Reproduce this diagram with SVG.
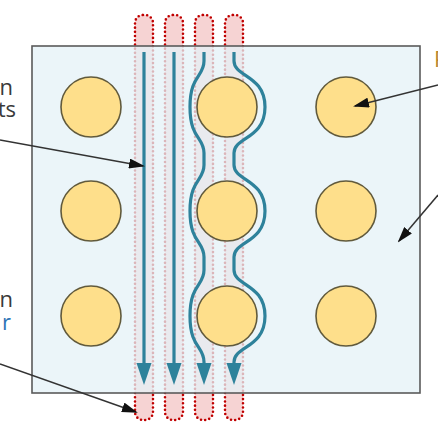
<svg xmlns="http://www.w3.org/2000/svg" width="438" height="438" viewBox="0 0 438 438">
<style>
.chan{fill:#f6d3d3;stroke:#c00000;stroke-width:2.6;stroke-dasharray:0 4.2;stroke-linecap:round}
.box{fill:#e4f1f7;fill-opacity:0.75;stroke:#5a5a5a;stroke-width:1.6}
.grain{fill:#fedf8b;stroke:#615a3c;stroke-width:1.6}
.flow{fill:none;stroke:#2e829b;stroke-width:3.2;marker-end:url(#fh)}
.lead{fill:none;stroke:#333;stroke-width:1.5;marker-end:url(#lh)}
.lbl{font-family:"Open Sans","Liberation Sans",sans-serif;font-size:22px;fill:#3a3a3a}
</style>
<defs>
<marker id="fh" markerUnits="userSpaceOnUse" viewBox="0 0 22 16" markerWidth="22" markerHeight="16" refX="12" refY="8" orient="auto">
<path d="M0,0.5 L22,8 L0,15.5 z" fill="#2e829b"/>
</marker>
<marker id="lh" markerUnits="userSpaceOnUse" viewBox="0 0 16 10" markerWidth="16" markerHeight="10" refX="14" refY="5" orient="auto">
<path d="M0,0 L16,5 L0,10 z" fill="#111"/>
</marker>
</defs>
<g id="channels">
<rect class="chan" x="135" y="15" width="18" height="405" rx="8"/>
<rect class="chan" x="165" y="15" width="18" height="405" rx="8"/>
<rect class="chan" x="195" y="15" width="18" height="405" rx="8"/>
<rect class="chan" x="225" y="15" width="18" height="405" rx="8"/>
</g>
<g id="medium"><rect class="box" x="32" y="46" width="388" height="347"/></g>
<g id="grains">
<circle class="grain" cx="91" cy="107" r="30"/>
<circle class="grain" cx="227" cy="107" r="30"/>
<circle class="grain" cx="346" cy="107" r="30"/>
<circle class="grain" cx="91" cy="211" r="30"/>
<circle class="grain" cx="227" cy="211" r="30"/>
<circle class="grain" cx="346" cy="211" r="30"/>
<circle class="grain" cx="91" cy="316" r="30"/>
<circle class="grain" cx="227" cy="316" r="30"/>
<circle class="grain" cx="346" cy="316" r="30"/>
</g>
<g id="connectors">
<path class="flow" d="M144,52 V375"/>
<path class="flow" d="M174,52 V375"/>
<path class="flow" d="M204,52 V61 C204,77 190,75 190,107 C190,139 204,137 204,153 V165 C204,181 190,179 190,211 C190,243 204,241 204,257 V270 C204,286 190,284 190,316 C190,348 204,346 204,362 V375"/>
<path class="flow" d="M234,52 V61 C234,77 265,75 265,107 C265,139 234,137 234,153 V165 C234,181 265,179 265,211 C265,243 234,241 234,257 V270 C234,286 265,284 265,316 C265,348 234,346 234,362 V375"/>
<path class="lead" d="M0,140 L143,166"/>
<path class="lead" d="M0,364 L136,412"/>
<path class="lead" d="M438,85 L355,106"/>
<path class="lead" d="M438,195 L399,241"/>
</g>
<g id="labels">
<text class="lbl" x="13" y="95" text-anchor="end">n</text>
<text class="lbl" x="16" y="117" text-anchor="end">ts</text>
<text class="lbl" x="13" y="307" text-anchor="end">n</text>
<text class="lbl" x="11" y="330" text-anchor="end" style="fill:#2e75b6">r</text>
<text class="lbl" x="434" y="67" style="fill:#b8862a">P</text>
</g>
</svg>
